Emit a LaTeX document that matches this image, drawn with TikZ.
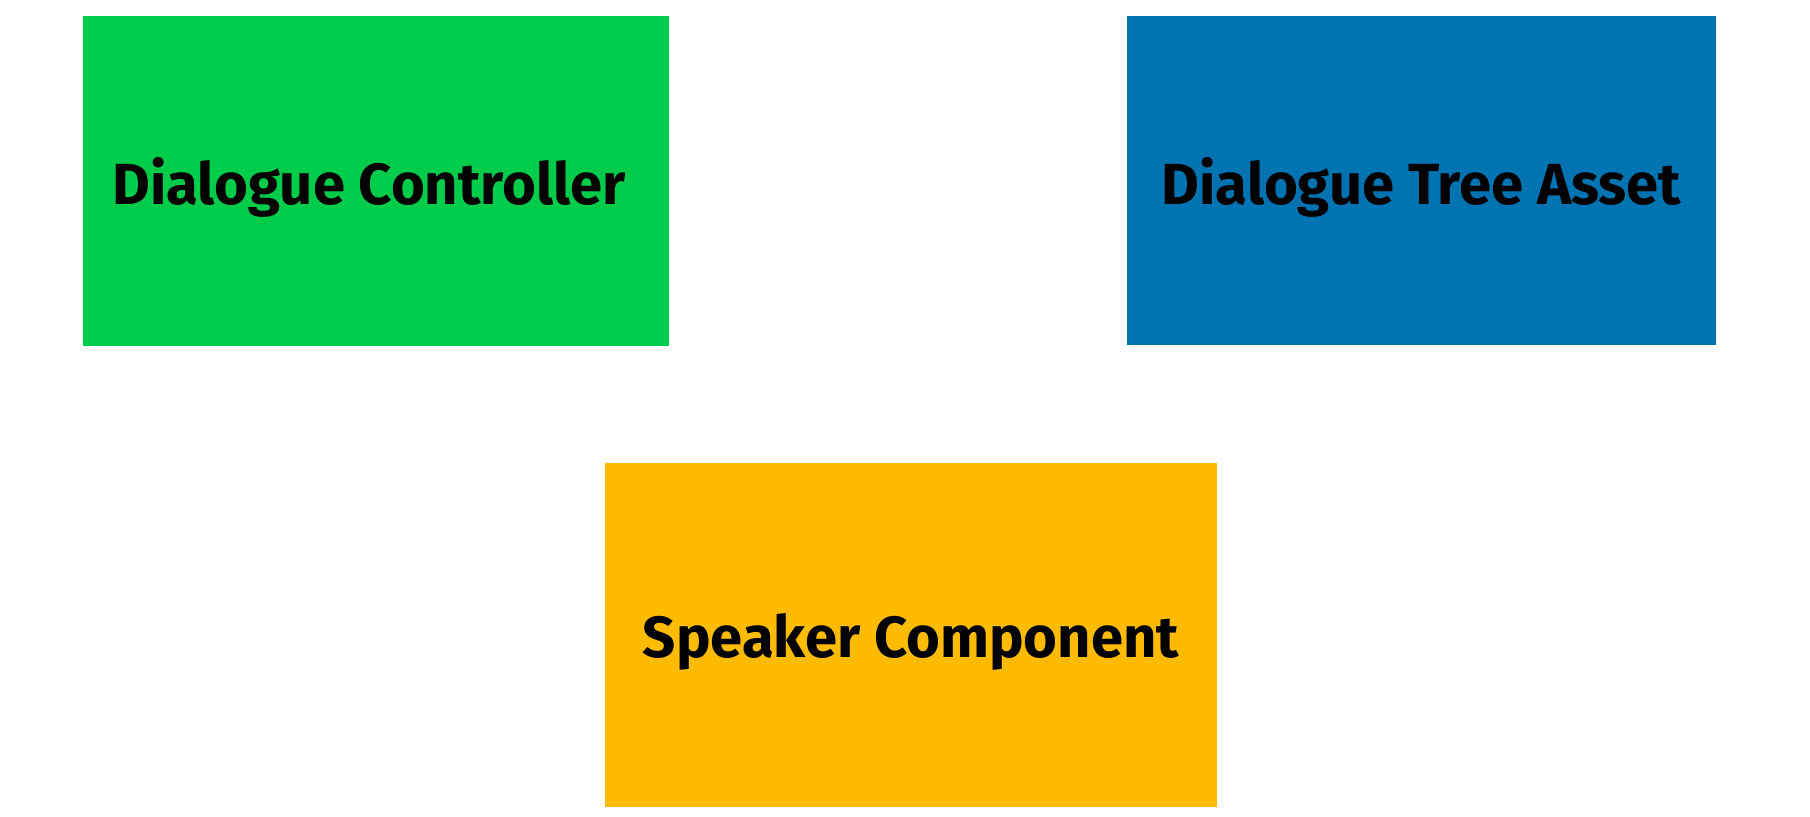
\documentclass[tikz,border=0pt]{standalone}
\usepackage{fontspec}
\setmainfont{Fira Sans}
\definecolor{ctrlgreen}{RGB}{0,204,76}
\definecolor{treeblue}{RGB}{0,116,178}
\definecolor{speakeryellow}{RGB}{255,187,0}
\tikzset{
  block/.style={rectangle,inner sep=0pt,text depth=0pt,font=\fontsize{29}{34}\selectfont\bfseries,text=black},
}
\begin{document}
\begin{tikzpicture}[x=0.5pt,y=-0.5pt]
        %% Frame
        \useasboundingbox (0,0) rectangle (1810,817);
        %% Boxes
        \node[block,fill=ctrlgreen,minimum width=293pt,minimum height=165pt] (ctrl) at (376,181) {Dialogue Controller\kern7pt};
        \node[block,fill=treeblue,minimum width=294.5pt,minimum height=164.5pt] (tree) at (1421.5,181) {Dialogue Tree Asset};
        \node[block,fill=speakeryellow,minimum width=306pt,minimum height=172pt] (speaker) at (911,635) {Speaker Component};
    \end{tikzpicture}
\end{document}
